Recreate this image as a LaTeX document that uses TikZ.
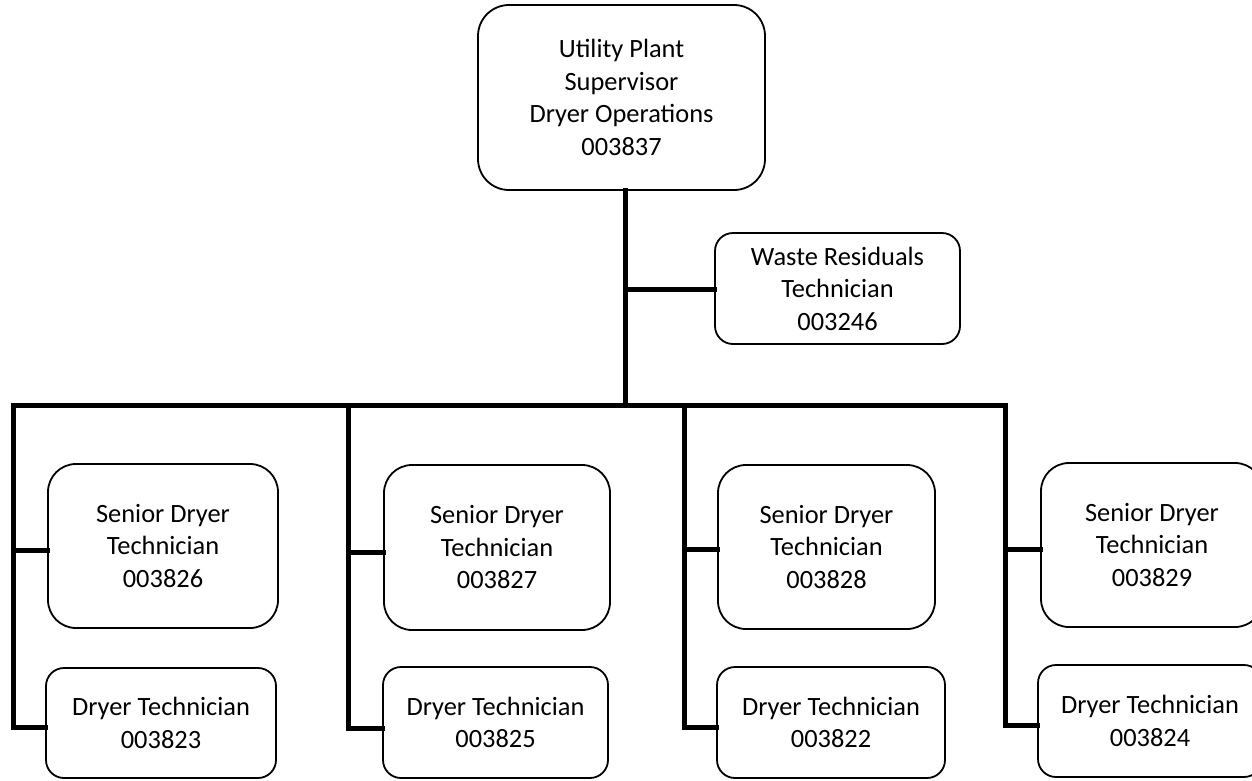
\documentclass[tikz,border=0pt]{standalone}
\usepackage{fontspec}
\setmainfont{Carlito}
\begin{document}
\begin{tikzpicture}[x=1pt,y=-1pt,
  box/.style={draw=black,line width=1.8pt,rounded corners=#1,inner sep=0pt,align=center,
    font=\fontsize{26.4}{32.5}\selectfont},
  box/.default=18pt,
  conn/.style={line width=5pt,line join=miter,line cap=rect}]
\useasboundingbox (0,0) rectangle (1252,780);
\clip (0,0) rectangle (1252,780);
% top
\node[box=31pt,minimum width=287pt,minimum height=185pt] (top) at (621.5,97.5)
  {Utility Plant\\Supervisor\\Dryer Operations\\003837};
\node[box=18pt,minimum width=245pt,minimum height=111pt] (waste) at (837.5,288.5)
  {Waste Residuals\\Technician\\003246};
% seniors
\node[box=28pt,minimum width=230pt,minimum height=164pt] (s1) at (163,546) {Senior Dryer\\Technician\\003826};
\node[box=28pt,minimum width=226pt,minimum height=165pt] (s2) at (497,547.5) {Senior Dryer\\Technician\\003827};
\node[box=28pt,minimum width=217pt,minimum height=164pt] (s3) at (826.5,547) {Senior Dryer\\Technician\\003828};
\node[box=28pt,minimum width=222pt,minimum height=164pt] (s4) at (1152,545) {Senior Dryer\\Technician\\003829};
% dryer techs
\node[box=18pt,minimum width=230pt,minimum height=110pt] (d1) at (161,723) {Dryer Technician\\003823};
\node[box=18pt,minimum width=225pt,minimum height=111pt] (d2) at (495.5,722.5) {Dryer Technician\\003825};
\node[box=18pt,minimum width=228pt,minimum height=111pt] (d3) at (831,722.5) {Dryer Technician\\003822};
\node[box=18pt,minimum width=224pt,minimum height=112pt] (d4) at (1150,721) {Dryer Technician\\003824};
% bus coordinates
\coordinate (b1) at (13,405);
\coordinate (b2) at (348,405);
\coordinate (b3) at (684,405);
\coordinate (b4) at (1005,405);
\coordinate (tj) at (625,405);
% connectors
\draw[conn] (top.south -| tj) -- (tj);
\draw[conn] (625,289) -- (waste.west |- 0,289);
\draw[conn] (b1) -- (b4);
\draw[conn] (b1) -- (13,727) -- (d1.west |- 0,727);
\draw[conn] (13,550) -- (s1.west |- 0,550);
\draw[conn] (b2) -- (348,728) -- (d2.west |- 0,728);
\draw[conn] (348,552) -- (s2.west |- 0,552);
\draw[conn] (b3) -- (684,727) -- (d3.west |- 0,727);
\draw[conn] (684,549) -- (s3.west |- 0,549);
\draw[conn] (b4) -- (1005,725) -- (d4.west |- 0,725);
\draw[conn] (1005,549) -- (s4.west |- 0,549);
\end{tikzpicture}
\end{document}
